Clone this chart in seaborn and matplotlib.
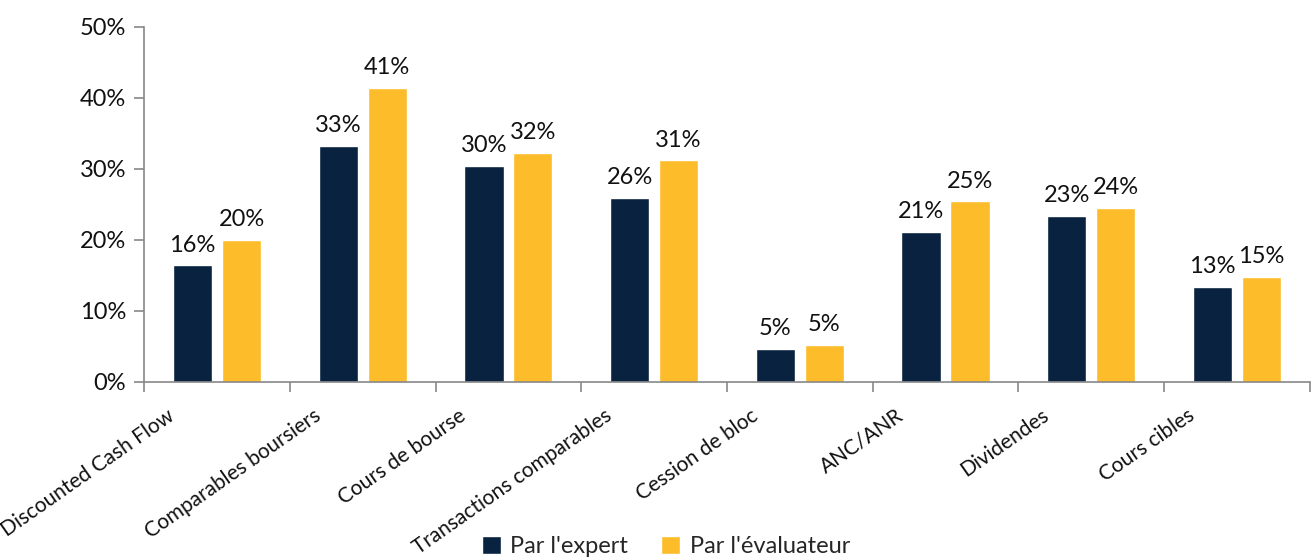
import matplotlib
matplotlib.use("Agg")
import matplotlib.pyplot as plt
import matplotlib.transforms as mtransforms
from matplotlib.patches import Patch
import seaborn as sns
import pandas as pd

categories = ["Discounted Cash Flow", "Comparables boursiers", "Cours de bourse",
              "Transactions comparables", "Cession de bloc", "ANC/ANR",
              "Dividendes", "Cours cibles"]
series_names = ["Par l'expert", "Par l'évaluateur"]
expert = [0.164, 0.332, 0.304, 0.259, 0.046, 0.211, 0.234, 0.134]
evaluateur = [0.200, 0.414, 0.322, 0.312, 0.052, 0.254, 0.245, 0.148]
yticks = [0, 0.1, 0.2, 0.3, 0.4, 0.5]
colors = ["#08223F", "#FDBD2A"]

sns.set_style("white")
plt.rcParams['font.family'] = ['Lato', 'DejaVu Sans']

df = pd.DataFrame({
    "cat": categories * 2,
    "val": expert + evaluateur,
    "serie": [series_names[0]] * len(categories) + [series_names[1]] * len(categories),
})

fig = plt.figure(figsize=(13.11, 5.59), dpi=100)
ax = fig.add_axes([0.110, 0.317, 0.889, 0.635])
sns.barplot(data=df, x="cat", y="val", hue="serie", order=categories,
            hue_order=series_names, palette=colors, width=0.672, gap=0.2,
            saturation=1, errorbar=None, legend=False, ax=ax)

ax.set_ylim(0, 0.5)
ax.set_xlim(-0.5, len(categories) - 0.5)
ax.set_yticks(yticks)
ax.set_yticklabels([f"{int(round(t*100))}%" for t in yticks], fontsize=17)
ax.set_xlabel("")
ax.set_ylabel("")

for c in ax.containers:
    ax.bar_label(c, labels=[f"{int(round(v*100))}%" for v in c.datavalues],
                 padding=7, fontsize=17, color="#111111")

for s in ["top", "right"]:
    ax.spines[s].set_visible(False)
for s in ["left", "bottom"]:
    ax.spines[s].set_color("#888888")
    ax.spines[s].set_linewidth(1.2)

ax.tick_params(axis="y", which="major", direction="out", length=7, width=1.2,
               color="#888888", left=True, pad=6, labelcolor="#111111")
ax.set_xticks(range(len(categories)))
ax.set_xticks([i - 0.5 for i in range(len(categories) + 1)], minor=True)
ax.tick_params(axis="x", which="minor", direction="out", length=7, width=1.2,
               color="#888888", bottom=True)
ax.tick_params(axis="x", which="major", length=0, pad=17)
ax.set_xticklabels(categories, rotation=35, ha="right", rotation_mode="anchor",
                   fontsize=15, color="#111111")
offset = mtransforms.ScaledTranslation(-0.50, 0.0, fig.dpi_scale_trans)
for lab in ax.get_xticklabels():
    lab.set_transform(lab.get_transform() + offset)

handles = [Patch(facecolor=colors[0]), Patch(facecolor=colors[1])]
fig.legend(handles, series_names, loc="lower center", bbox_to_anchor=(0.508, -0.035),
           ncol=2, frameon=False, fontsize=17, handlelength=0.8, handleheight=0.8,
           handletextpad=0.4, columnspacing=1.4)

fig.savefig("out.png", dpi=100)
